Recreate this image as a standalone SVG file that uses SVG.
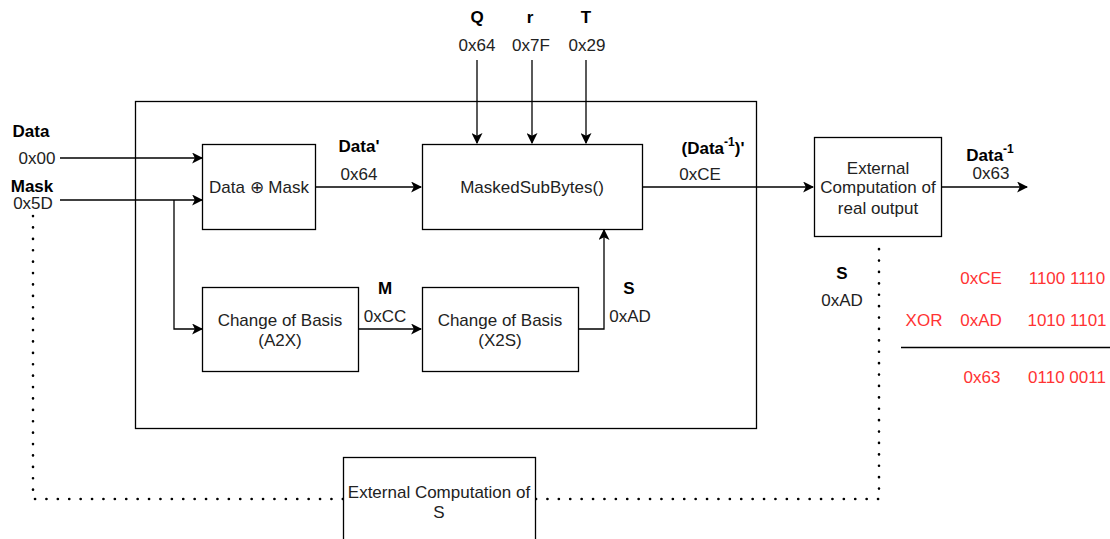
<svg xmlns="http://www.w3.org/2000/svg" width="1110" height="539" viewBox="0 0 1110 539">
  <defs>
    <marker id="arrow" viewBox="0 0 10 10" refX="9" refY="5" markerWidth="11" markerHeight="11" markerUnits="userSpaceOnUse" orient="auto">
      <path d="M0,0 L10,5 L0,10 L2.5,5 Z" fill="#000"/>
    </marker>
  </defs>
  <style>
    .box { fill: #fff; stroke: #000; stroke-width: 1.3; }
    .frame { fill: none; stroke: #000; stroke-width: 1.3; }
    .wire { fill: none; stroke: #000; stroke-width: 1.3; }
    .arr { marker-end: url(#arrow); }
    .dot { fill: none; stroke: #000; stroke-width: 2.6; stroke-dasharray: 0.1 11.3; stroke-linecap: round; }
    text { font-family: "Liberation Sans", Arial, sans-serif; font-size: 17px; fill: #222; text-anchor: middle; dominant-baseline: central; }
    .b { font-weight: bold; fill: #000; }
    .red { fill: #ff3333; }
  </style>
  <rect width="1110" height="539" fill="#fff"/>

  <!-- enclosing frame -->
  <rect class="frame" x="135.5" y="101.5" width="621" height="327"/>

  <!-- connectors -->
  <g id="connectors">
    <line class="wire arr" x1="60" y1="158" x2="202" y2="158"/>
    <line class="wire arr" x1="60" y1="200" x2="202" y2="200"/>
    <polyline class="wire arr" points="174,200 174,329 202,329"/>
    <line class="wire arr" x1="316" y1="187" x2="421" y2="187"/>
    <line class="wire arr" x1="359" y1="329" x2="421" y2="329"/>
    <polyline class="wire arr" points="579,329 604,329 604,230"/>
    <line class="wire arr" x1="477" y1="60" x2="477" y2="143"/>
    <line class="wire arr" x1="532" y1="60" x2="532" y2="143"/>
    <line class="wire arr" x1="586" y1="60" x2="586" y2="143"/>
    <line class="wire arr" x1="643" y1="187" x2="813" y2="187"/>
    <line class="wire arr" x1="942" y1="187" x2="1027" y2="187"/>
    <polyline class="dot" points="33,216 33,499 343,499"/>
    <polyline class="dot" points="536,499 879,499 879,239"/>
  </g>

  <!-- nodes -->
  <g id="xor-mask">
    <rect class="box" x="202.5" y="144.5" width="113" height="85"/>
    <text x="259" y="187">Data ⊕ Mask</text>
  </g>
  <g id="masked-subbytes">
    <rect class="box" x="422.5" y="144.5" width="220" height="85"/>
    <text x="532" y="187">MaskedSubBytes()</text>
  </g>
  <g id="a2x">
    <rect class="box" x="202.5" y="287.5" width="156" height="84"/>
    <text x="280" y="320">Change of Basis</text>
    <text x="280" y="340">(A2X)</text>
  </g>
  <g id="x2s">
    <rect class="box" x="422.5" y="287.5" width="156" height="84"/>
    <text x="500" y="320">Change of Basis</text>
    <text x="500" y="340">(X2S)</text>
  </g>
  <g id="ext-output">
    <rect class="box" x="814.5" y="137.5" width="127" height="99"/>
    <text x="878" y="168">External</text>
    <text x="878" y="187">Computation of</text>
    <text x="878" y="208">real output</text>
  </g>
  <g id="ext-s">
    <rect class="box" x="343.5" y="457.5" width="192" height="90"/>
    <text x="439" y="492">External Computation of</text>
    <text x="439" y="512">S</text>
  </g>

  <!-- signal labels -->
  <g id="labels">
    <text class="b" x="31" y="131">Data</text>
    <text x="37" y="158">0x00</text>
    <text class="b" x="32" y="186">Mask</text>
    <text x="33" y="203">0x5D</text>

    <text class="b" x="477" y="17">Q</text>
    <text x="477" y="45">0x64</text>
    <text class="b" x="530" y="17">r</text>
    <text x="531" y="45">0x7F</text>
    <text class="b" x="586" y="17">T</text>
    <text x="587" y="45">0x29</text>

    <text class="b" x="359" y="146">Data'</text>
    <text x="359" y="174">0x64</text>

    <text class="b" x="713" y="148">(Data<tspan font-size="12" dy="-6">-1</tspan><tspan dy="6">)'</tspan></text>
    <text x="700" y="174">0xCE</text>

    <text class="b" x="990" y="155">Data<tspan font-size="12" dy="-6">-1</tspan></text>
    <text x="991" y="173">0x63</text>

    <text class="b" x="385" y="288">M</text>
    <text x="385" y="316">0xCC</text>
    <text class="b" x="629" y="288">S</text>
    <text x="630" y="316">0xAD</text>

    <text class="b" x="842" y="273">S</text>
    <text x="842" y="300">0xAD</text>
  </g>

  <!-- XOR worked example -->
  <g id="xor-example">
    <text class="red" x="981" y="278">0xCE</text>
    <text class="red" x="1067" y="278">1100 1110</text>
    <text class="red" x="924" y="320">XOR</text>
    <text class="red" x="981" y="320">0xAD</text>
    <text class="red" x="1067" y="320">1010 1101</text>
    <line x1="901" y1="347.5" x2="1110" y2="347.5" stroke="#000" stroke-width="1.3"/>
    <text class="red" x="982" y="377">0x63</text>
    <text class="red" x="1067" y="377">0110 0011</text>
  </g>
</svg>
